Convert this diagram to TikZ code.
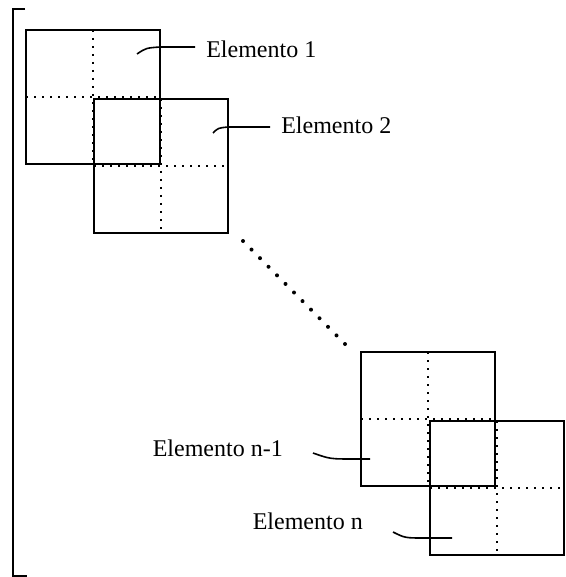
\documentclass[tikz,border=0pt]{standalone}
\usepackage{fontspec}
\setmainfont{Liberation Serif}
\usetikzlibrary{calc}
\begin{document}
\begin{tikzpicture}[x=0.75pt,y=-0.75pt,
  elem/.style={draw,line width=1.5pt,minimum width=100.5pt,minimum height=100.5pt,
               inner sep=0pt,outer sep=0pt},
  grid/.style={line width=1.1pt,dash pattern=on 1.4pt off 4.6pt},
  lbl/.style={font=\fontsize{18}{20}\selectfont,inner sep=0pt},
  leader/.style={line width=1.2pt},
  bracket/.style={line width=1.4pt}]
\useasboundingbox (0,0) rectangle (566,577);

% left bracket
\draw[bracket] (25,9) -- (13,9) -- (13,576) -- (27,576);

% elements, each split into four cells
\node[elem] (e1) at (93,97) {};
\draw[grid] (e1.north) -- (e1.south) (e1.west) -- (e1.east);
\node[elem] (e2) at (161,166) {};
\draw[grid] (e2.north) -- (e2.south) (e2.west) -- (e2.east);
\node[elem] (en1) at (428,419) {};
\draw[grid] (en1.north) -- (en1.south) (en1.west) -- (en1.east);
\node[elem] (en) at (497,488) {};
\draw[grid] (en.north) -- (en.south) (en.west) -- (en.east);

% ellipsis between the elements
\coordinate (d1) at (243,241);
\coordinate (d2) at (345,344);
\foreach \i in {0,...,12}
  \fill ($(d1)!\i/12!(d2)$) circle (2);

% labels
\node[lbl,anchor=west] (l1) at (206,49) {Elemento 1};
\node[lbl,anchor=west] (l2) at (281,125) {Elemento 2};
\node[lbl,anchor=east] (ln1) at (283,448) {Elemento n-1};
\node[lbl,anchor=east] (ln) at (363,521) {Elemento n};

% leader lines
\coordinate (t1) at (137,54);
\coordinate (t2) at (213,133);
\coordinate (t3) at (370,459);
\coordinate (t4) at (452,538);
\draw[leader] (t1) .. controls (146,48) .. (160,47) -- ([shift={(-11,-2)}]l1.west);
\draw[leader] (t2) .. controls (218,128) .. (228,127) -- ([shift={(-11,2)}]l2.west);
\draw[leader] ([shift={(30,5)}]ln1.east) .. controls (330,459) .. (355,459) -- (t3);
\draw[leader] ([shift={(30,11)}]ln.east) .. controls (405,538) .. (425,538) -- (t4);
\end{tikzpicture}
\end{document}
